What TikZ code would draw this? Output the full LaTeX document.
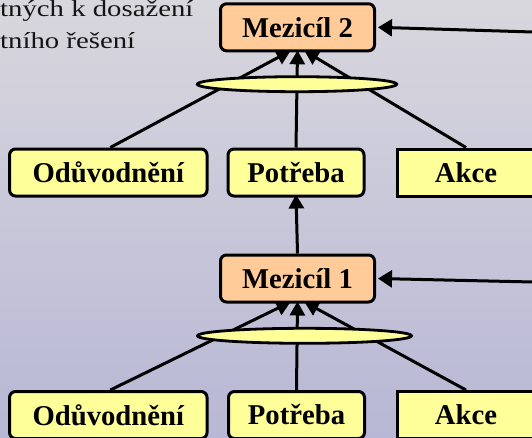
\documentclass[tikz,border=0pt]{standalone}
\usepackage{fontspec}
\setmainfont{Liberation Serif}
\usetikzlibrary{arrows.meta,shapes.geometric}
\definecolor{bgtop}{RGB}{216,215,221}
\definecolor{bgbot}{RGB}{184,183,213}
\definecolor{boxyellow}{RGB}{255,255,153}
\definecolor{boxorange}{RGB}{255,204,153}
\definecolor{txtgray}{RGB}{20,20,20}
\tikzset{
  goalbox/.style={draw=black, line width=3pt, fill=boxorange, rounded corners=6pt,
    minimum width=154pt, minimum height=47pt, inner sep=0pt,
    font=\fontsize{28.7}{34}\selectfont\bfseries},
  itembox/.style={draw=black, line width=3pt, fill=boxyellow, rounded corners=6pt,
    minimum height=47pt, inner sep=0pt,
    font=\fontsize{28.7}{34}\selectfont\bfseries},
  sharpbox/.style={itembox, sharp corners},
  andell/.style={ellipse, draw=black, line width=2.8pt, fill=boxyellow, inner sep=0pt},
  conn/.style={draw=black, line width=3pt},
  tipconn/.style={conn, -{Triangle[length=14pt,width=15pt]}},
  sidetip/.style={conn, -{Triangle[length=14pt,width=17pt]}},
  note/.style={anchor=base west, inner sep=0pt, text=txtgray,
    font=\fontsize{23}{28}\selectfont}
}
\begin{document}
\begin{tikzpicture}[x=1pt,y=-1pt]
\useasboundingbox (0,0) rectangle (532,437);
\shade[top color=bgtop, bottom color=bgbot] (0,0) rectangle (532,437);

\node[note] (t1) at (0,16.7) {\scalebox{1.25}[1]{tných k dosažení}};
\node[note] (t2) at (0,48.5) {\scalebox{1.25}[1]{tního řešení}};

% upper level
\node[goalbox] (m2) at (297.5,27.3) {Mezicíl 2};
\node[itembox, minimum width=197.5pt] (o2) at (108.3,172.5) {Odůvodnění};
\node[itembox, minimum width=136pt] (p2) at (296,172.5) {Potřeba};
\node[sharpbox, minimum width=138pt] (a2) at (466,172.5) {Akce};

% lower level
\node[goalbox] (m1) at (297.5,278.5) {Mezicíl 1};
\node[itembox, minimum width=197.5pt] (o1) at (108.3,415) {Odůvodnění};
\node[itembox, minimum width=136pt] (p1) at (296.5,415) {Potřeba};
\node[sharpbox, minimum width=138pt] (a1) at (466,415) {Akce};

% connectors upper
\draw[tipconn] ([xshift=2pt]o2.north) -- ([xshift=-7pt,yshift=1.5pt]m2.south);
\draw[tipconn] (a2.north) -- ([xshift=7pt,yshift=1.5pt]m2.south);
\draw[tipconn] (p2.north) -- ([yshift=2pt]m2.south);

% connectors lower
\draw[tipconn] ([xshift=2pt]o1.north) -- ([xshift=-7pt,yshift=1.5pt]m1.south);
\draw[tipconn] (a1.north) -- ([xshift=7pt,yshift=1.5pt]m1.south);
\draw[tipconn] (p1.north) -- ([yshift=2pt]m1.south);

% between levels
\draw[tipconn] (m1.north) -- ([yshift=3pt]p2.south);

% side arrows
\coordinate (r2) at (533,32);
\coordinate (r1) at (533,282);
\draw[sidetip] (r2) -- ([xshift=2pt]m2.east);
\draw[sidetip] (r1) -- ([xshift=2pt]m1.east);

% and-ellipses
\node[andell, minimum width=199.4pt, minimum height=15pt] (e2) at (297,84.2) {};
\node[andell, minimum width=214pt, minimum height=15pt] (e1) at (304.5,335.8) {};
\end{tikzpicture}
\end{document}
